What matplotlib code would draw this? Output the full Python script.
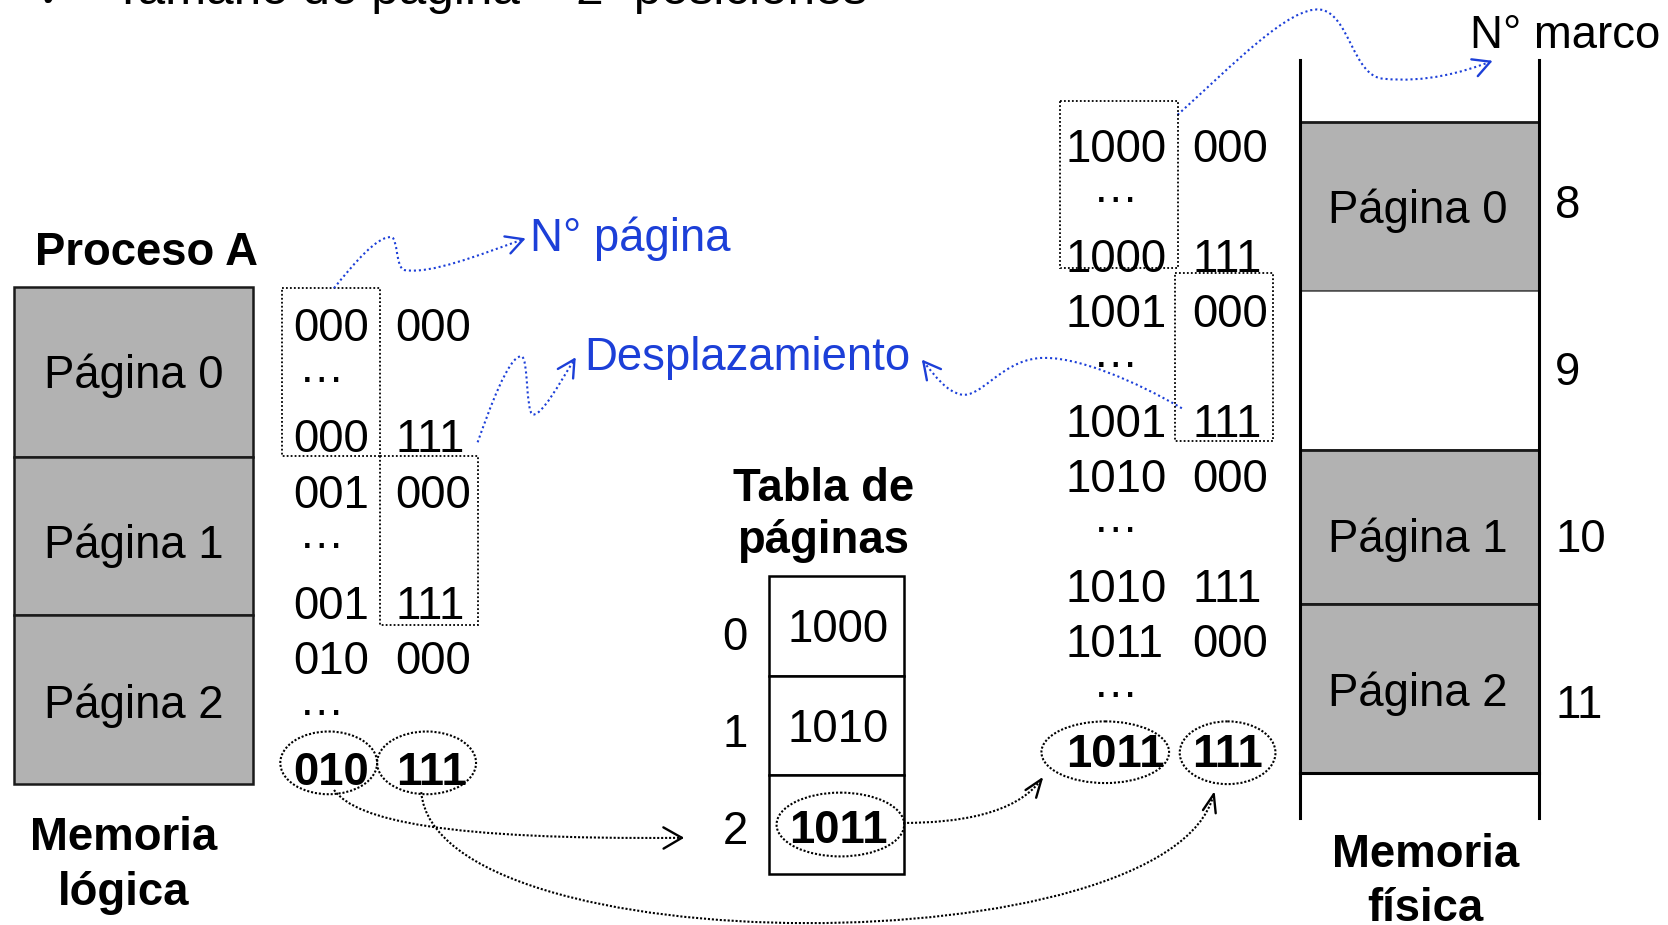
import matplotlib
matplotlib.use("Agg")
import matplotlib.pyplot as plt
import numpy as np
from matplotlib.patches import Rectangle, Ellipse, PathPatch
from matplotlib.path import Path

# ---------------- data ----------------
header_text = "Tamaño de página = 2³ posiciones"
process_title = "Proceso A"
logical_pages = ["Página 0", "Página 1", "Página 2"]
logical_page_bits = ["000", "…", "000", "001", "…", "001", "010", "…", "010"]
logical_offsets = ["000", "", "111", "000", "", "111", "000", "", "111"]
table_title = ["Tabla de", "páginas"]
table_index = ["0", "1", "2"]
table_frames = ["1000", "1010", "1011"]
physical_frame_bits = ["1000", "…", "1000", "1001", "…", "1001",
                       "1010", "…", "1010", "1011", "…", "1011"]
physical_offsets = ["000", "", "111", "000", "", "111",
                    "000", "", "111", "000", "", "111"]
frame_numbers = ["8", "9", "10", "11"]
frame_contents = ["Página 0", "", "Página 1", "Página 2"]
label_page_no = "N° página"
label_offset = "Desplazamiento"
label_frame_no = "N° marco"
label_logical = ["Memoria", "lógica"]
label_physical = ["Memoria", "física"]

# ---------------- style ----------------
FONT = "Liberation Sans"
FS = 32.8
GREY = "#b2b2b2"
BLUE = "#1c3fd8"
DOT_BLUE = (0, (1, 1.4))
DOT_BLACK = (0, (1, 0.9))
DOT_BOX = (0, (1, 1.2))

fig = plt.figure(figsize=(16.68, 9.25), dpi=100)
ax = fig.add_axes([0, 0, 1, 1])
ax.set_xlim(0, 1568)
ax.set_ylim(870, 0)
ax.axis("off")


def txt(x, y, s, ha="left", bold=False, color="black", fs=FS, va="baseline"):
    ax.text(x, y, s, ha=ha, va=va, fontsize=fs, family=FONT,
            fontweight="bold" if bold else "normal", color=color)


def bez_curve(points):
    verts = [points[0]]
    codes = [Path.MOVETO]
    for p in points[1:]:
        verts.append(p)
        codes.append(Path.CURVE4)
    return Path(verts, codes)


def arrow(points, color, dash, lw=1.5, head=18, ang=28):
    path = bez_curve(points)
    ax.add_patch(PathPatch(path, fill=False, edgecolor=color, lw=lw,
                           linestyle=dash, capstyle="butt"))
    tip = np.array(points[-1], float)
    prev = np.array(points[-2], float)
    d = tip - prev
    d = d / np.hypot(*d)
    for a in (ang, -ang):
        r = np.deg2rad(a)
        rot = np.array([[np.cos(r), -np.sin(r)], [np.sin(r), np.cos(r)]])
        w = tip - head * rot.dot(d)
        ax.plot([tip[0], w[0]], [tip[1], w[1]], color=color, lw=1.7,
                solid_capstyle="round")


# ---------------- header (cut at top, as in the reference) ----------------
ax.text(51, 6, "✔", ha="center", va="baseline", fontsize=26,
        family="DejaVu Sans", color="black")
txt(106, 3.7, header_text, fs=35.6)

# ---------------- logical memory ----------------
txt(138, 249, process_title, ha="center", bold=True)
lm_edges = [270, 430, 578, 737]
lm_base = [365, 525, 675]
for i, name in enumerate(logical_pages):
    ax.add_patch(Rectangle((13, lm_edges[i]), 225, lm_edges[i + 1] - lm_edges[i],
                           facecolor=GREY, edgecolor="#1a1a1a", lw=1.8))
    txt(125.5, lm_base[i], name, ha="center")
txt(116, 799, label_logical[0], ha="center", bold=True)
txt(116, 851, label_logical[1], ha="center", bold=True)

# logical addresses
LB0, LSTEP = 321, 52.2
for i, (pb, off) in enumerate(zip(logical_page_bits, logical_offsets)):
    y = LB0 + LSTEP * i
    bold = i == len(logical_page_bits) - 1
    if pb == "…":
        txt(302, y - 14, pb, ha="center")
    else:
        txt(276, y, pb, bold=bold)
    if off:
        txt(372, y, off, bold=bold)

ax.add_patch(Rectangle((265, 271), 92, 158, fill=False, edgecolor="black",
                       lw=1.3, linestyle=DOT_BOX))
ax.add_patch(Rectangle((357, 429), 92, 159, fill=False, edgecolor="black",
                       lw=1.3, linestyle=DOT_BOX))
ax.add_patch(Ellipse((309, 717.5), 91, 59, fill=False, edgecolor="black",
                     lw=1.5, linestyle=DOT_BLACK))
ax.add_patch(Ellipse((401, 717.5), 93, 59, fill=False, edgecolor="black",
                     lw=1.5, linestyle=DOT_BLACK))

# ---------------- blue labels ----------------
txt(498, 236, label_page_no, color=BLUE)
txt(549, 348, label_offset, color=BLUE)
txt(1382, 45, label_frame_no)

arrow([(314, 271), (335, 245), (355, 222), (368, 223),
       (374, 224), (372, 252), (380, 254),
       (405, 258), (450, 240), (492, 225)], BLUE, DOT_BLUE)
arrow([(449, 416), (460, 385), (478, 335), (490, 335),
       (497, 336), (494, 388), (501, 390),
       (510, 390), (525, 362), (540, 338)], BLUE, DOT_BLUE)
arrow([(1111, 384), (1070, 360), (1010, 333), (975, 337),
       (940, 341), (922, 375), (903, 371),
       (890, 368), (880, 355), (868, 340)], BLUE, DOT_BLUE)
arrow([(1107, 108), (1160, 60), (1212, 6), (1241, 9),
       (1268, 12), (1272, 72), (1300, 74),
       (1340, 78), (1375, 68), (1401, 58)], BLUE, DOT_BLUE)

# ---------------- page table ----------------
txt(774, 471.5, table_title[0], ha="center", bold=True)
txt(774, 520, table_title[1], ha="center", bold=True)
t_edges = [541.5, 635.5, 728.5, 822.5]
idx_base = [611, 703, 794]
val_base = [603.5, 697.5, 793]
for i in range(3):
    ax.add_patch(Rectangle((723, t_edges[i]), 127, t_edges[i + 1] - t_edges[i],
                           facecolor="white", edgecolor="black", lw=1.8))
    txt(691, idx_base[i], table_index[i], ha="center")
    txt(788, val_base[i], table_frames[i], ha="center", bold=(i == 2))
ax.add_patch(Ellipse((790, 775.5), 120, 60, fill=False, edgecolor="black",
                     lw=1.5, linestyle=DOT_BLACK))

# ---------------- physical addresses ----------------
PB0, PSTEP = 152, 51.8
for i, (fb, off) in enumerate(zip(physical_frame_bits, physical_offsets)):
    y = PB0 + PSTEP * i
    bold = i == len(physical_frame_bits) - 1
    if fb == "…":
        txt(1049, y - 14, fb, ha="center")
    else:
        txt(1002, y, fb, bold=bold)
    if off:
        txt(1121, y, off, bold=bold)

ax.add_patch(Rectangle((996, 95), 111, 157, fill=False, edgecolor="black",
                       lw=1.3, linestyle=DOT_BOX))
ax.add_patch(Rectangle((1105, 257), 92, 158, fill=False, edgecolor="black",
                       lw=1.3, linestyle=DOT_BOX))
ax.add_patch(Ellipse((1039, 707.5), 120, 58, fill=False, edgecolor="black",
                     lw=1.5, linestyle=DOT_BLACK))
ax.add_patch(Ellipse((1154, 708), 90, 59, fill=False, edgecolor="black",
                     lw=1.5, linestyle=DOT_BLACK))

# ---------------- physical memory ----------------
pm_edges = [114.5, 274, 423, 568, 727]
pm_base = [210, 0, 519, 664]
for i, name in enumerate(frame_contents):
    h = pm_edges[i + 1] - pm_edges[i]
    if name:
        ax.add_patch(Rectangle((1222, pm_edges[i]), 225, h, facecolor=GREY,
                               edgecolor="#1a1a1a", lw=2.0))
        txt(1333, pm_base[i], name, ha="center")
    else:
        ax.add_patch(Rectangle((1222, pm_edges[i]), 225, h, facecolor="white",
                               edgecolor="#555555", lw=1.2))
ax.plot([1222, 1222], [56.4, 769], color="black", lw=2.2)
ax.plot([1446.5, 1446.5], [56.4, 769], color="black", lw=2.2)
ax.plot([1222, 1446.5], [727, 727], color="black", lw=2.2)
fn_base = [205, 362, 519, 675]
for i, fn in enumerate(frame_numbers):
    txt(1462, fn_base[i], fn)
txt(1340, 815, label_physical[0], ha="center", bold=True)
txt(1340, 866.5, label_physical[1], ha="center", bold=True)

# ---------------- black dotted arrows ----------------
arrow([(314, 743), (335, 772), (420, 790), (641, 788)], "black", DOT_BLACK,
      head=20, ang=30)
arrow([(849, 774), (900, 774), (955, 766), (979, 733)], "black", DOT_BLACK,
      head=18, ang=20)
arrow([(396, 745), (410, 909), (1100, 909), (1141, 747)], "black", DOT_BLACK,
      head=18, ang=20)

fig.savefig("out.png", dpi=100)
